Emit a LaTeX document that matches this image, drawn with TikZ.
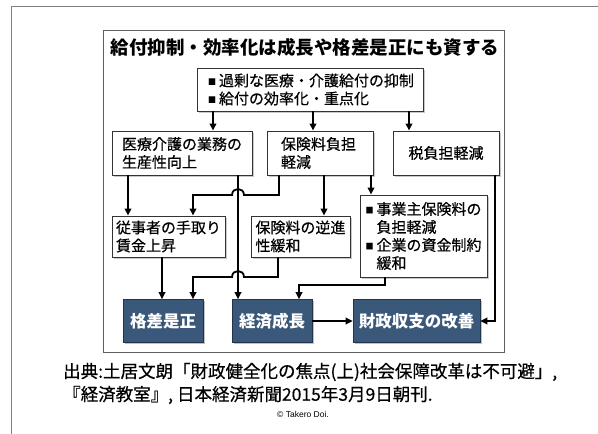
\documentclass[tikz,border=0pt]{standalone}
\usepackage{fontspec}
\setmainfont{Noto Sans CJK JP}[UprightFeatures={FakeBold=0.5}]
\newfontfamily\arialfont{Liberation Sans}
\usetikzlibrary{arrows.meta,shadows}
\definecolor{navy}{RGB}{58,88,122}
\definecolor{framegray}{RGB}{95,95,95}
\newcommand\sqmark{\makebox[11pt][l]{\raisebox{1.5pt}{\fontsize{8}{8}\selectfont ■}}}
\newcommand\sqgap{\hspace*{11pt}}
\begin{document}
\begin{tikzpicture}[x=1pt,y=-1pt,
  wbox/.style={draw=black!80, line width=0.9pt, fill=white,
    drop shadow={shadow xshift=1.6pt,shadow yshift=-1.6pt,opacity=0.35,fill=black!60},
    inner xsep=0pt, inner ysep=0pt, font=\fontsize{15}{18}\selectfont},
  nbox/.style={draw=navy!60!black, line width=0.6pt, fill=navy, text=white,
    drop shadow={shadow xshift=1.6pt,shadow yshift=-1.6pt,opacity=0.4,fill=black!60},
    font=\bfseries\fontsize{16.5}{18}\selectfont, inner sep=0pt, minimum height=43pt},
  conn/.style={line width=1.8pt, -{Triangle[length=7pt,width=6.5pt]}},
  plain/.style={line width=1.8pt}
]
\useasboundingbox (0,0) rectangle (598,434);
\fill[white] (0,0) rectangle (598,434);
% slide border and diagram frame
\draw[gray, line width=0.8pt] (11,434) -- (11,6) -- (598,6);
\draw[framegray, line width=0.9pt] (103,30) rectangle (504,352);

% title
\node (title) at (305,47) {\bfseries\fontsize{18.5}{20}\selectfont 給付抑制・効率化は成長や格差是正にも資する};

% boxes
\node[wbox, minimum width=226pt, minimum height=43pt, text width=204pt, align=left] (top) at (310,89.5)
  {\sqmark 過剰な医療・介護給付の抑制\\\sqmark 給付の効率化・重点化};
\node[wbox, minimum width=140pt, minimum height=44pt, text width=120pt, align=left] (A) at (182,153)
  {医療介護の業務の\\生産性向上};
\node[wbox, minimum width=106pt, minimum height=44pt, text width=78pt, align=left] (B) at (320,153)
  {保険料負担\\軽減};
\node[wbox, minimum width=106pt, minimum height=44pt, text width=90pt, align=center] (C) at (446,153)
  {税負担軽減};
\node[wbox, minimum width=113pt, minimum height=41pt, text width=105pt, align=left] (D) at (168.5,236.5)
  {従事者の手取り\\賃金上昇};
\node[wbox, minimum width=99pt, minimum height=41pt, text width=90pt, align=left] (E) at (300.5,236.5)
  {保険料の逆進\\性緩和};
\node[wbox, minimum width=127pt, minimum height=82pt, text width=116pt, align=left] (F) at (423.5,236)
  {\sqmark 事業主保険料の\\\sqgap 負担軽減\\\sqmark 企業の資金制約\\\sqgap 緩和};
\node[nbox, minimum width=80pt] (G) at (163,321) {格差是正};
\node[nbox, minimum width=80pt] (H) at (272,321) {経済成長};
\node[nbox, minimum width=127pt] (I) at (416.5,321) {財政収支の改善};

% connectors
\draw[conn] (top.south -| 213,0) -- (A.north -| 213,0);
\draw[conn] (top.south -| 313,0) -- (B.north -| 313,0);
\draw[conn] (top.south -| 409,0) -- (C.north -| 409,0);
\draw[conn] (A.south -| 128,0) -- (D.north -| 128,0);
\draw[conn] (A.south -| 238,0) -- (H.north -| 238,0);
\draw[conn] (B.south -| 279,0) -- (279,195) -- (244,195)
  .. controls (244,187) and (232,187) .. (232,195) -- (193,195) -- (D.north -| 193,0);
\draw[conn] (B.south -| 324,0) -- (E.north -| 324,0);
\draw[conn] (B.south -| 371,0) -- (F.north -| 371,0);
\draw[conn] (C.south -| 495,0) -- (495,321) -- (I.east);
\draw[conn] (D.south -| 162,0) -- (G.north -| 162,0);
\draw[conn] (E.south -| 278,0) -- (278,277) -- (244,277)
  .. controls (244,269) and (232,269) .. (232,277) -- (193,277) -- (G.north -| 193,0);
\draw[conn] (F.south -| 385,0) -- (385,285) -- (299,285) -- (H.north -| 299,0);
\draw[conn] (H.east) -- (I.west);

% source
\node[anchor=west, inner sep=0pt, font=\fontsize{17.5}{20}\selectfont] (src1) at (63,372)
  {出典:土居文朗「財政健全化の焦点(上)社会保障改革は不可避」,};
\node[anchor=west, inner sep=0pt, font=\fontsize{17.5}{20}\selectfont] (src2) at (63,395)
  {『経済教室』, 日本経済新聞2015年3月9日朝刊.};
\node[inner sep=0pt] (copy) at (303,414) {\arialfont\fontsize{8.5}{10}\selectfont © Takero Doi.};
\end{tikzpicture}
\end{document}
